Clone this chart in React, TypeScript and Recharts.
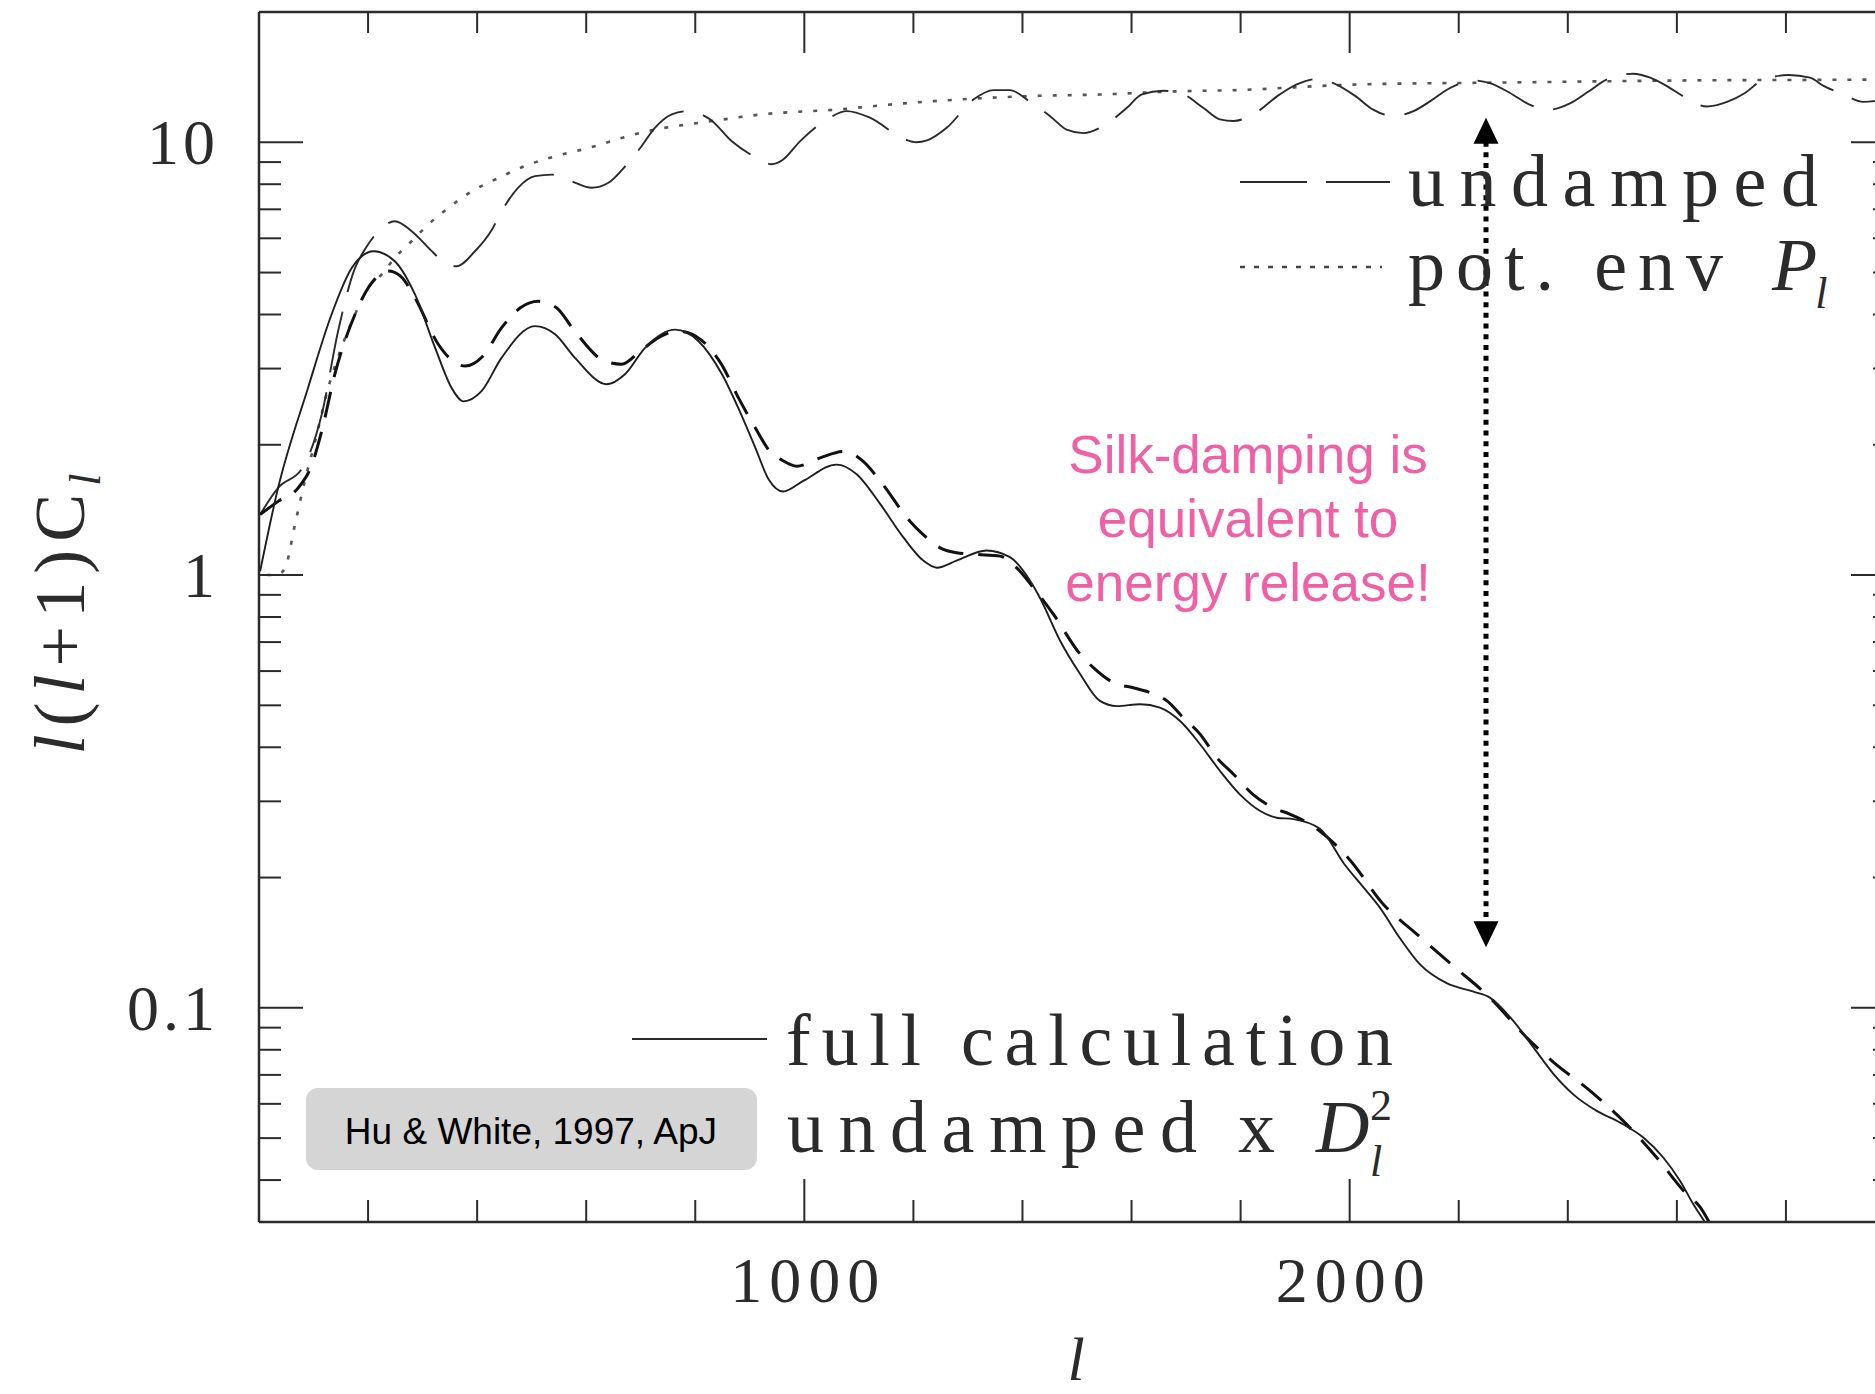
import React from "react";
import { LineChart, Line, XAxis, YAxis, ReferenceLine } from "recharts";

// multipole l for each series, values of l(l+1)C_l
const fullL = [2, 35, 90, 133, 170, 210, 249, 286, 323, 353, 375, 408, 445, 506, 543, 579, 638, 671, 708, 763, 806, 849, 879, 910, 935, 961, 998, 1059, 1096, 1139, 1182, 1218, 1243, 1279, 1334, 1377, 1414, 1432, 1469, 1506, 1542, 1573, 1616, 1652, 1689, 1726, 1762, 1799, 1836, 1866, 1897, 1946, 1990, 2025, 2056, 2092, 2129, 2178, 2227, 2257, 2300, 2337, 2374, 2410, 2453, 2496, 2539, 2575, 2606, 2630, 2655];
const fullV = [1.02, 1.59, 2.71, 4.0, 5.12, 5.6, 5.31, 4.45, 3.35, 2.71, 2.52, 2.66, 3.18, 3.76, 3.6, 3.18, 2.76, 2.91, 3.35, 3.69, 3.47, 2.91, 2.43, 1.97, 1.66, 1.56, 1.65, 1.8, 1.71, 1.46, 1.22, 1.08, 1.04, 1.08, 1.14, 1.1, 0.97, 0.886, 0.705, 0.59, 0.512, 0.498, 0.503, 0.494, 0.46, 0.406, 0.353, 0.311, 0.285, 0.275, 0.273, 0.259, 0.215, 0.19, 0.17, 0.145, 0.126, 0.114, 0.109, 0.1056, 0.0933, 0.081, 0.0703, 0.0631, 0.0578, 0.0543, 0.0501, 0.0451, 0.0398, 0.0352, 0.0315];

const dampL = [2, 35, 70, 97, 115, 139, 176, 205, 237, 260, 286, 329, 352, 378, 410, 445, 480, 512, 545, 579, 634, 665, 700, 735, 769, 810, 848, 879, 910, 937, 960, 986, 1029, 1072, 1108, 1139, 1194, 1218, 1249, 1279, 1316, 1359, 1389, 1420, 1457, 1506, 1530, 1567, 1603, 1634, 1665, 1695, 1726, 1756, 1787, 1823, 1860, 1891, 1933, 2000, 2062, 2123, 2190, 2257, 2325, 2374, 2441, 2508, 2563, 2618, 2643, 2662];
const dampV = [1.38, 1.48, 1.58, 1.8, 2.15, 2.91, 4.0, 4.7, 5.04, 4.9, 4.37, 3.41, 3.15, 3.04, 3.2, 3.73, 4.15, 4.29, 4.15, 3.66, 3.12, 3.07, 3.3, 3.55, 3.66, 3.5, 3.07, 2.57, 2.19, 1.93, 1.84, 1.785, 1.866, 1.93, 1.83, 1.65, 1.33, 1.24, 1.156, 1.126, 1.116, 1.106, 1.04, 0.935, 0.811, 0.656, 0.611, 0.564, 0.549, 0.535, 0.512, 0.468, 0.4285, 0.379, 0.3465, 0.311, 0.29, 0.28, 0.263, 0.22, 0.1734, 0.148, 0.125, 0.1056, 0.0853, 0.0748, 0.0643, 0.0538, 0.0451, 0.0371, 0.0346, 0.0315];

const undL = [2, 35, 80, 115, 145, 176, 194, 219, 249, 280, 314, 341, 362, 396, 427, 445, 475, 506, 537, 573, 610, 640, 674, 699, 726, 757, 787, 827, 867, 913, 940, 960, 992, 1041, 1078, 1120, 1185, 1205, 1225, 1261, 1310, 1347, 1377, 1414, 1454, 1481, 1512, 1548, 1591, 1619, 1658, 1689, 1732, 1762, 1787, 1823, 1872, 1903, 1940, 1970, 2010, 2043, 2080, 2117, 2150, 2184, 2227, 2257, 2294, 2331, 2367, 2404, 2438, 2471, 2520, 2551, 2581, 2615, 2655, 2692, 2725, 2756, 2805, 2844, 2869, 2905, 2942, 2990];
const undV = [1.38, 1.59, 1.77, 2.35, 3.66, 5.12, 5.65, 6.23, 6.57, 6.23, 5.65, 5.26, 5.17, 5.6, 6.28, 6.93, 7.85, 8.35, 8.42, 8.13, 7.85, 8.05, 8.88, 9.7, 10.8, 11.6, 11.8, 11.3, 10.05, 9.2, 8.9, 9.1, 10.05, 11.28, 11.8, 11.4, 10.15, 10.0, 10.1, 10.8, 12.55, 13.2, 13.2, 12.4, 11.4, 10.7, 10.5, 10.9, 12.0, 12.9, 13.15, 13.0, 12.0, 11.3, 11.2, 11.6, 12.9, 13.6, 14.0, 13.7, 12.8, 11.9, 11.5, 11.8, 12.5, 13.35, 13.9, 13.7, 13.0, 12.2, 11.9, 12.3, 13.1, 13.95, 14.4, 14.1, 13.5, 12.7, 12.1, 12.4, 13.0, 13.9, 14.3, 14.1, 13.5, 12.9, 12.4, 12.6];

const envL = [15, 33, 48, 66, 84, 103, 127, 151, 176, 200, 225, 249, 280, 310, 347, 390, 439, 494, 543, 604, 665, 726, 787, 849, 922, 1059, 1182, 1304, 1426, 1548, 1671, 1793, 2013, 2300, 2624, 2948, 3000];
const envV = [1.0, 1.0, 1.04, 1.31, 1.65, 2.04, 2.71, 3.35, 4.0, 4.61, 4.95, 5.41, 5.91, 6.45, 7.05, 7.7, 8.27, 8.88, 9.28, 9.7, 10.23, 10.7, 11.0, 11.28, 11.6, 11.9, 12.3, 12.6, 12.8, 12.9, 13.1, 13.2, 13.6, 13.75, 13.9, 13.96, 14.0];

const xTicks = [0, 200, 400, 600, 800, 1000, 1200, 1400, 1600, 1800, 2000, 2200, 2400, 2600, 2800, 3000];
const xMajor = [1000, 2000];
const yTicks = [0.04, 0.05, 0.06, 0.07, 0.08, 0.09, 0.1, 0.2, 0.3, 0.4, 0.5, 0.6, 0.7, 0.8, 0.9, 1, 2, 3, 4, 5, 6, 7, 8, 9, 10];
const yMajor = [0.1, 1, 10];

// arrow: l position and the two tips
const arrowL = 2250;
const arrowLow = 0.138;
const arrowHigh = 11.4;

const pts = (ls: number[], vs: number[]) => ls.map((l, i) => ({ l, v: vs[i] }));

const ink = "#2b2b2b";
const serif = "'Liberation Serif', 'Times New Roman', serif";
const sans = "'Liberation Sans', Arial, sans-serif";

const LeftTick = (p: any) => {
  const major = yMajor.includes(p.payload.value);
  return (
    <g>
      <line x1={p.x} x2={p.x + (major ? 44 : 22)} y1={p.y} y2={p.y} stroke={ink} strokeWidth={2} />
      {major && (
        <text x={p.x - 40} y={p.y + 22} textAnchor="end" fontFamily={serif} fontSize={64} letterSpacing={4} fill={ink}>
          {String(p.payload.value)}
        </text>
      )}
    </g>
  );
};

const RightTick = (p: any) => {
  const major = yMajor.includes(p.payload.value);
  return <line x1={p.x} x2={p.x - (major ? 44 : 22)} y1={p.y} y2={p.y} stroke={ink} strokeWidth={2} />;
};

const BottomTick = (p: any) => {
  const major = xMajor.includes(p.payload.value);
  return (
    <g>
      <line x1={p.x} x2={p.x} y1={p.y} y2={p.y - (major ? 43 : 22)} stroke={ink} strokeWidth={2} />
      {major && (
        <text x={p.x + 4} y={p.y + 80} textAnchor="middle" fontFamily={serif} fontSize={64} letterSpacing={7} fill={ink}>
          {String(p.payload.value)}
        </text>
      )}
    </g>
  );
};

const TopTick = (p: any) => {
  const major = xMajor.includes(p.payload.value);
  return <line x1={p.x} x2={p.x} y1={p.y} y2={p.y + (major ? 41 : 21)} stroke={ink} strokeWidth={2} />;
};

const Arrow = (p: any) => {
  const x = p.x1;
  const top = Math.min(p.y1, p.y2);
  const bot = Math.max(p.y1, p.y2);
  return (
    <g>
      <line x1={x} x2={x} y1={top + 24} y2={bot - 24} stroke="#000" strokeWidth={5} strokeDasharray="5 5.7" />
      <polygon points={`${x},${top} ${x - 12.5},${top + 26} ${x + 12.5},${top + 26}`} fill="#000" />
      <polygon points={`${x},${bot} ${x - 12.5},${bot - 26} ${x + 12.5},${bot - 26}`} fill="#000" />
    </g>
  );
};

export default function App() {
  return (
    <div style={{ position: "absolute", left: 0, top: 0, width: 1875, height: 1394, overflow: "hidden", background: "#fff" }}>
      <LineChart width={1900} height={1394} margin={{ top: 0, right: 0, bottom: 0, left: 0 }}>
        <XAxis dataKey="l" type="number" domain={[0, 3000]} ticks={xTicks} interval={0} allowDataOverflow
          height={172} tickSize={0} tickMargin={0} tick={<BottomTick />} axisLine={{ stroke: ink, strokeWidth: 2.5 }} />
        <XAxis xAxisId="top" orientation="top" dataKey="l" type="number" domain={[0, 3000]} ticks={xTicks} interval={0} allowDataOverflow
          height={12} tickSize={0} tickMargin={0} tick={<TopTick />} axisLine={{ stroke: ink, strokeWidth: 2.5 }} />
        <YAxis type="number" scale="log" domain={[0.032, 20]} ticks={yTicks} interval={0} allowDataOverflow
          width={259} tickSize={0} tickMargin={0} tick={<LeftTick />} axisLine={{ stroke: ink, strokeWidth: 2.5 }} />
        <YAxis yAxisId="right" orientation="right" type="number" scale="log" domain={[0.032, 20]} ticks={yTicks} interval={0} allowDataOverflow
          width={5} tickSize={0} tickMargin={0} tick={<RightTick />} axisLine={{ stroke: ink, strokeWidth: 2.5 }} />

        <Line data={pts(envL, envV)} dataKey="v" type="monotone" dot={false} isAnimationActive={false}
          stroke="#555" strokeWidth={2.6} strokeDasharray="4 11" />
        <Line data={pts(undL, undV)} dataKey="v" type="monotone" dot={false} isAnimationActive={false}
          stroke="#2a2a2a" strokeWidth={1.9} strokeDasharray="62 20" />
        <Line data={pts(dampL, dampV)} dataKey="v" type="monotone" dot={false} isAnimationActive={false}
          stroke="#111" strokeWidth={3} strokeDasharray="26 15" />
        <Line data={pts(fullL, fullV)} dataKey="v" type="monotone" dot={false} isAnimationActive={false}
          stroke="#1e1e1e" strokeWidth={1.9} />

        <ReferenceLine segment={[{ x: arrowL, y: arrowLow }, { x: arrowL, y: arrowHigh }]} ifOverflow="visible" shape={<Arrow />} />
      </LineChart>

      <svg width={1875} height={1394} style={{ position: "absolute", left: 0, top: 0, pointerEvents: "none" }}>
        {/* legend, top right */}
        <line x1={1240} x2={1390} y1={182} y2={182} stroke={ink} strokeWidth={2} strokeDasharray="67 19" />
        <text x={1408} y={206} fontFamily={serif} fontSize={74} fill={ink} textLength={410}>undamped</text>
        <line x1={1240} x2={1382} y1={267} y2={267} stroke="#444" strokeWidth={2.5} strokeDasharray="5 9" />
        <text y={290} fontFamily={serif} fontSize={74} fill={ink}>
          <tspan x={1408} textLength={315}>pot. env</tspan>
          <tspan x={1772} fontStyle="italic">P</tspan>
          <tspan fontStyle="italic" fontSize={44} dx={-2} dy={18}>l</tspan>
        </text>

        {/* legend, bottom */}
        <line x1={632} x2={767} y1={1039} y2={1039} stroke={ink} strokeWidth={2} />
        <text x={786} y={1065} fontFamily={serif} fontSize={74} fill={ink} textLength={607}>full calculation</text>
        <text y={1152} fontFamily={serif} fontSize={74} fill={ink}>
          <tspan x={787} textLength={410}>undamped</tspan>
          <tspan x={1238}>x</tspan>
          <tspan x={1316} fontStyle="italic">D</tspan>
          <tspan x={1370} fontSize={44} dy={-32}>2</tspan>
          <tspan x={1370} fontStyle="italic" fontSize={44} dy={56}>l</tspan>
        </text>

        {/* citation */}
        <rect x={306} y={1088} width={451} height={82} rx={12} fill="#d5d5d5" />
        <text x={531} y={1144} textAnchor="middle" fontFamily={sans} fontSize={37} fill="#000">Hu &amp; White, 1997, ApJ</text>

        {/* annotation */}
        <text textAnchor="middle" fontFamily={sans} fontSize={53} fill="#ef60a5">
          <tspan x={1248} y={473}>Silk-damping is</tspan>
          <tspan x={1248} y={537}>equivalent to</tspan>
          <tspan x={1248} y={601}>energy release!</tspan>
        </text>

        {/* axis titles */}
        <text transform="translate(84,610) rotate(-90)" textAnchor="middle" fontFamily={serif} fontSize={72} letterSpacing={8} fill={ink}>
          <tspan fontStyle="italic">l</tspan>(<tspan fontStyle="italic">l</tspan>+1)C
          <tspan fontStyle="italic" fontSize={44} dy={16}>l</tspan>
        </text>
        <text x={1076} y={1380} textAnchor="middle" fontFamily={serif} fontSize={62} fontStyle="italic" fill={ink}>l</text>
      </svg>
    </div>
  );
}
